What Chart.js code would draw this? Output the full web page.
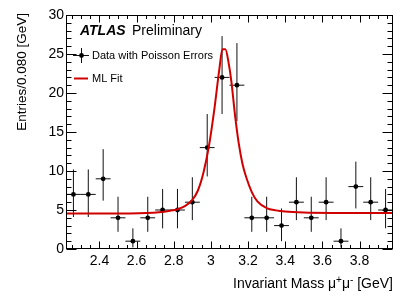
<!DOCTYPE html>
<html>
<head>
<meta charset="utf-8">
<script src="https://cdn.jsdelivr.net/npm/chart.js@4.4.1/dist/chart.umd.min.js"></script>
<style>
  html, body { margin: 0; padding: 0; background: #ffffff; }
  #wrap { width: 415px; height: 298px; }
</style>
</head>
<body>
<div id="wrap"><canvas id="c" width="415" height="298"></canvas></div>
<script>
// ---- data ----
const binWidth = 0.08;
const binCenters = [2.26, 2.34, 2.42, 2.50, 2.58, 2.66, 2.74, 2.82, 2.90, 2.98, 3.06,
                    3.14, 3.22, 3.30, 3.38, 3.46, 3.54, 3.62, 3.70, 3.78, 3.86, 3.94];
const counts     = [7, 7, 9, 4, 1, 4, 5, 5, 6, 13, 22, 21, 4, 4, 3, 6, 4, 6, 1, 8, 6, 5];
const errLow     = [4.1, 4.1, 6.2, 2.2, 0.2, 2.2, 2.65, 2.65, 3.7, 9.3, 17.3, 16.4,
                    2.2, 2.2, 1.0, 3.7, 2.2, 3.7, 0.2, 5.2, 3.7, 2.65];
const errHigh    = [10.2, 10.2, 12.8, 6.7, 2.65, 6.7, 7.7, 7.7, 9.2, 17.3, 27.3, 26.4,
                    6.7, 6.7, 5.2, 9.2, 6.7, 9.2, 2.65, 11.2, 9.2, 7.7];
const fitX = [2.22, 2.40, 2.55, 2.65, 2.72, 2.78, 2.82, 2.86, 2.90, 2.93, 2.96, 2.99, 3.02,
              3.045, 3.062, 3.078, 3.095, 3.11, 3.13, 3.15, 3.17, 3.19, 3.22, 3.25, 3.30,
              3.35, 3.40, 3.50, 3.70, 3.98];
const fitY = [4.55, 4.55, 4.56, 4.6, 4.7, 4.9, 5.1, 5.5, 6.3, 7.5, 9.8, 13.3, 18.2,
              23.0, 25.6, 25.6, 23.9, 21.5, 17.1, 13.5, 10.9, 9.2, 7.3, 6.1, 5.25,
              4.95, 4.8, 4.68, 4.62, 4.6];
const xTickValues = [2.4, 2.6, 2.8, 3.0, 3.2, 3.4, 3.6, 3.8];
const yTickValues = [0, 5, 10, 15, 20, 25, 30];
const xRange = [2.22, 3.98];
const yRange = [0, 30];
const xMinorStep = 0.05;
const yMinorStep = 1;
const xTitle = ['Invariant Mass \u03BC', '+', '\u03BC', '-', ' [GeV]'];
const yTitle = 'Entries/0.080 [GeV]';
const legendLabels = ['Data with Poisson Errors', 'ML Fit'];

const FONT = "'Liberation Sans', Arial, Helvetica, sans-serif";
const RED = '#d10000';

const atlasPlugin = {
  id: 'atlasPlugin',
  beforeDatasetsDraw(chart) {
    const ctx = chart.ctx, xs = chart.scales.x, ys = chart.scales.y;
    ctx.save();
    ctx.strokeStyle = '#111';
    ctx.lineWidth = 1;
    for (let i = 0; i < binCenters.length; i++) {
      const x = xs.getPixelForValue(binCenters[i]);
      const y = ys.getPixelForValue(counts[i]);
      ctx.beginPath();
      ctx.moveTo(x, ys.getPixelForValue(errLow[i]));
      ctx.lineTo(x, ys.getPixelForValue(errHigh[i]));
      ctx.moveTo(xs.getPixelForValue(binCenters[i] - binWidth / 2), y);
      ctx.lineTo(xs.getPixelForValue(binCenters[i] + binWidth / 2), y);
      ctx.stroke();
    }
    ctx.restore();
  },
  afterDraw(chart) {
    const ctx = chart.ctx, xs = chart.scales.x, ys = chart.scales.y;
    const a = chart.chartArea;
    const L = Math.round(a.left) + 0.5, R = Math.round(a.right) - 0.5;
    const T = Math.round(a.top) + 0.5, B = Math.round(a.bottom) - 0.5;
    ctx.save();
    ctx.strokeStyle = '#000';
    ctx.lineWidth = 1;
    ctx.strokeRect(L, T, R - L, B - T);
    ctx.beginPath();
    // x ticks (bottom & top, inside)
    for (let v = Math.ceil(xRange[0] / xMinorStep) * xMinorStep; v <= xRange[1] + 1e-9; v += xMinorStep) {
      const major = xTickValues.some(t => Math.abs(t - v) < 1e-6);
      const len = major ? 7 : 3.5;
      const px = Math.round(xs.getPixelForValue(v)) + 0.5;
      ctx.moveTo(px, B); ctx.lineTo(px, B - len);
      ctx.moveTo(px, T); ctx.lineTo(px, T + len);
    }
    // y ticks (left & right, inside)
    for (let v = yRange[0]; v <= yRange[1] + 1e-9; v += yMinorStep) {
      const major = yTickValues.some(t => Math.abs(t - v) < 1e-6);
      const len = major ? 10 : 5;
      const py = Math.round(ys.getPixelForValue(v)) + 0.5;
      ctx.moveTo(L, py); ctx.lineTo(L + len, py);
      ctx.moveTo(R, py); ctx.lineTo(R - len, py);
    }
    ctx.stroke();

    // axis titles
    ctx.fillStyle = '#000';
    ctx.textBaseline = 'alphabetic';
    // x title with superscripts, right aligned at frame right
    const mainF = '14px ' + FONT, supF = '10px ' + FONT;
    const parts = [
      {t: xTitle[0], f: mainF, dy: 0},
      {t: xTitle[1], f: supF, dy: -5},
      {t: xTitle[2], f: mainF, dy: 0},
      {t: xTitle[3], f: supF, dy: -5},
      {t: xTitle[4], f: mainF, dy: 0}
    ];
    let total = 0;
    parts.forEach(p => { ctx.font = p.f; p.w = ctx.measureText(p.t).width; total += p.w; });
    let cx = a.right - total;
    ctx.textAlign = 'left';
    parts.forEach(p => { ctx.font = p.f; ctx.fillText(p.t, cx, 288 + p.dy); cx += p.w; });
    // y title rotated
    ctx.save();
    ctx.translate(26, 13);
    ctx.rotate(-Math.PI / 2);
    ctx.font = '13.5px ' + FONT;
    ctx.textAlign = 'right';
    ctx.fillText(yTitle, 0, 0);
    ctx.restore();

    // ATLAS Preliminary
    ctx.textAlign = 'left';
    ctx.font = 'italic bold 14px ' + FONT;
    ctx.fillText('ATLAS', 80, 35);
    ctx.font = '14px ' + FONT;
    ctx.fillText('Preliminary', 132, 35);

    // legend: data entry
    ctx.beginPath();
    ctx.strokeStyle = '#111';
    ctx.moveTo(73, 55.5); ctx.lineTo(89, 55.5);
    ctx.moveTo(81.5, 48); ctx.lineTo(81.5, 63);
    ctx.stroke();
    ctx.beginPath();
    ctx.fillStyle = '#000';
    ctx.arc(81.5, 55.5, 2.4, 0, Math.PI * 2);
    ctx.fill();
    ctx.font = '11px ' + FONT;
    ctx.fillText(legendLabels[0], 92, 59);
    // legend: fit entry
    ctx.beginPath();
    ctx.strokeStyle = RED;
    ctx.lineWidth = 2;
    ctx.moveTo(74, 78.5); ctx.lineTo(88, 78.5);
    ctx.stroke();
    ctx.fillText(legendLabels[1], 92, 82);
    ctx.restore();
  }
};

new Chart(document.getElementById('c'), {
  type: 'scatter',
  data: {
    datasets: [
      {
        label: legendLabels[1],
        type: 'line',
        data: fitX.map((x, i) => ({x: x, y: fitY[i]})),
        borderColor: RED,
        borderWidth: 2,
        pointRadius: 0,
        fill: false,
        cubicInterpolationMode: 'monotone',
        order: 0
      },
      {
        label: legendLabels[0],
        data: binCenters.map((x, i) => ({x: x, y: counts[i]})),
        backgroundColor: '#000',
        borderColor: '#000',
        pointRadius: 2.4,
        pointBorderWidth: 0,
        showLine: false,
        order: 1
      }
    ]
  },
  options: {
    responsive: false,
    animation: false,
    events: [],
    layout: { padding: { left: 0, right: 22, top: 15, bottom: 0 } },
    plugins: { legend: { display: false }, tooltip: { enabled: false } },
    scales: {
      x: {
        type: 'linear',
        min: xRange[0], max: xRange[1],
        grid: { display: false, drawTicks: false },
        border: { display: false },
        afterBuildTicks: s => { s.ticks = xTickValues.map(v => ({value: v})); },
        afterFit: s => { s.height = 49; },
        ticks: {
          color: '#000',
          font: { family: FONT, size: 14 },
          padding: 4,
          maxRotation: 0,
          autoSkip: false,
          callback: v => String(Math.round(v * 10) / 10)
        }
      },
      y: {
        type: 'linear',
        min: yRange[0], max: yRange[1],
        grid: { display: false, drawTicks: false },
        border: { display: false },
        afterBuildTicks: s => { s.ticks = yTickValues.map(v => ({value: v})); },
        afterFit: s => { s.width = 66; },
        ticks: {
          color: '#000',
          font: { family: FONT, size: 14 },
          padding: 2,
          autoSkip: false,
          callback: v => String(v)
        }
      }
    }
  },
  plugins: [atlasPlugin]
});
</script>
</body>
</html>
